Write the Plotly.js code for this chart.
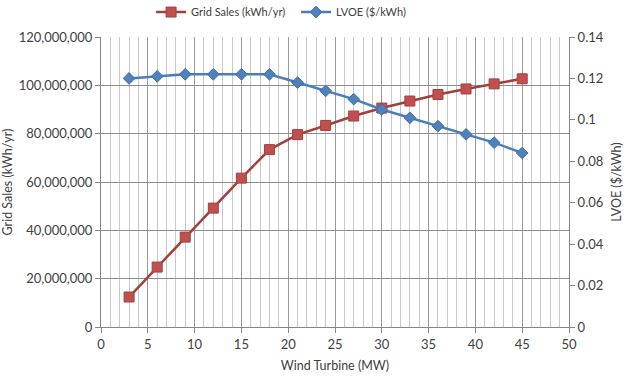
<!DOCTYPE html>
<html>
<head>
<meta charset="utf-8">
<script src="https://cdn.plot.ly/plotly-3.0.1.min.js"></script>
<style>html,body{margin:0;padding:0;background:#fff;}#chart{width:629px;height:376px;}</style>
</head>
<body>
<div id="chart"></div>
<script>
const windTurbineMW = [3, 6, 9, 12, 15, 18, 21, 24, 27, 30, 33, 36, 39, 42, 45];
const gridSales = [12400000, 24800000, 37200000, 49200000, 61600000, 73400000, 79600000, 83400000, 87300000, 90600000, 93500000, 96200000, 98500000, 100600000, 102700000];
const lvoe = [0.120, 0.121, 0.122, 0.122, 0.122, 0.122, 0.118, 0.114, 0.110, 0.105, 0.101, 0.097, 0.093, 0.089, 0.084];
const leftTickVals = [0, 20000000, 40000000, 60000000, 80000000, 100000000, 120000000];
const leftTickText = ["0", "20,000,000", "40,000,000", "60,000,000", "80,000,000", "100,000,000", "120,000,000"];
const rightTickVals = [0, 0.02, 0.04, 0.06, 0.08, 0.1, 0.12, 0.14];
const rightTickText = ["0", "0.02", "0.04", "0.06", "0.08", "0.1", "0.12", "0.14"];
const xTickVals = [0, 5, 10, 15, 20, 25, 30, 35, 40, 45, 50];

const fam = "Lato, 'Open Sans', sans-serif";
const tickFont = {family: fam, size: 13, color: "#404040"};
const titleFont = {family: fam, size: 12.5, color: "#404040"};
const legendFont = {family: fam, size: 11, color: "#404040"};
const axisColor = "#868686";

const traces = [
  {
    x: windTurbineMW, y: gridSales, name: "Grid Sales (kWh/yr)", type: "scatter", mode: "lines+markers",
    line: {color: "#A0403E", width: 2.5},
    marker: {symbol: "square", size: 10, color: "#C0504D", line: {color: "#A0403E", width: 1}},
    yaxis: "y"
  },
  {
    x: windTurbineMW, y: lvoe, name: "LVOE ($/kWh)", type: "scatter", mode: "lines+markers",
    line: {color: "#4A7EBB", width: 2.5},
    marker: {symbol: "diamond", size: 9, color: "#4F81BD", line: {color: "#3E6DA5", width: 1}},
    yaxis: "y2"
  }
];

const layout = {
  width: 629, height: 376,
  margin: {l: 101, r: 60, t: 37, b: 49, autoexpand: false},
  paper_bgcolor: "#ffffff", plot_bgcolor: "#ffffff",
  font: tickFont,
  showlegend: true,
  legend: {orientation: "h", x: 0.107, xanchor: "left", y: 1.086, yanchor: "middle", font: legendFont, tracegroupgap: 0, itemwidth: 30, entrywidth: 100, entrywidthmode: "pixels"},
  xaxis: {
    range: [0, 50], tickvals: xTickVals, ticks: "outside", ticklen: 5, tickcolor: axisColor, tickfont: tickFont,
    showgrid: true, gridcolor: "#9a9a9a", gridwidth: 1,
    minor: {dtick: 1, showgrid: true, gridcolor: "#c8c8c8", gridwidth: 1, ticks: ""},
    showline: true, linecolor: axisColor, zeroline: false,
    title: {text: "Wind Turbine (MW)", font: titleFont, standoff: 10}
  },
  yaxis: {
    range: [0, 120000000], tickvals: leftTickVals, ticktext: leftTickText, tickfont: tickFont,
    ticks: "outside", ticklen: 5, tickcolor: axisColor,
    showgrid: true, gridcolor: "#8c8c8c", gridwidth: 1,
    showline: true, linecolor: axisColor, zeroline: false,
    title: {text: "Grid Sales (kWh/yr)", font: titleFont, standoff: 4}
  },
  yaxis2: {
    range: [0, 0.14], tickvals: rightTickVals, ticktext: rightTickText, overlaying: "y", side: "right", tickfont: tickFont,
    ticks: "outside", ticklen: 5, tickcolor: axisColor,
    showgrid: false, showline: true, linecolor: axisColor, zeroline: false,
    title: {text: "LVOE ($/kWh)", font: titleFont, standoff: 9}
  }
};

Plotly.newPlot("chart", traces, layout, {displayModeBar: false, staticPlot: true});
</script>
</body>
</html>
